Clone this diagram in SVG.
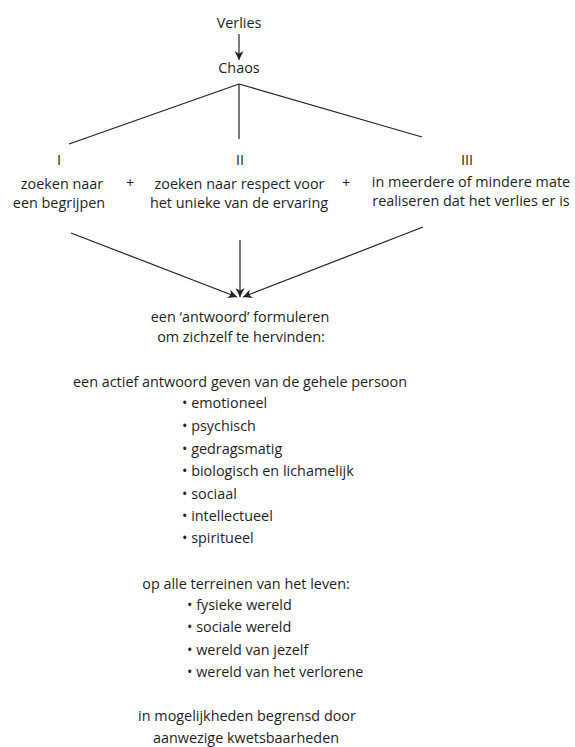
<svg xmlns="http://www.w3.org/2000/svg" width="575" height="747" viewBox="0 0 575 747">
<style>
text{font-family:"Open Sans","Liberation Sans",sans-serif;font-size:14.4px;fill:#1e1e1e}
.c{text-anchor:middle}
.num{opacity:0.99}
.ln{stroke:#222;stroke-width:1.2;fill:none}
.arr{marker-end:url(#ah)}
</style>
<defs>
<marker id="ah" viewBox="0 0 10 10" refX="10" refY="5" markerWidth="9" markerHeight="9" markerUnits="userSpaceOnUse" orient="auto">
<path d="M0,0 L10,5 L0,10 L3,5 Z" fill="#222"/>
</marker>
</defs>
<rect width="575" height="747" fill="#fff"/>
<g id="connectors">
<line class="ln arr" x1="239" y1="34" x2="239" y2="60"/>
<line class="ln" x1="239" y1="84" x2="69" y2="144"/>
<line class="ln" x1="239" y1="84" x2="239" y2="139"/>
<line class="ln" x1="239" y1="84" x2="422" y2="137"/>
<line class="ln arr" x1="71" y1="233" x2="237" y2="297"/>
<line class="ln arr" x1="240" y1="240" x2="240" y2="297"/>
<line class="ln arr" x1="423" y1="227" x2="243" y2="297"/>
</g>
<g id="verlies"><text class="c" x="239" y="28">Verlies</text></g>
<g id="chaos"><text class="c" x="239" y="73">Chaos</text></g>
<g id="node-I">
<text class="c num" x="59" y="165">I</text>
<text class="c" x="62" y="189">zoeken naar</text>
<text class="c" x="59" y="208">een begrijpen</text>
</g>
<g id="plus1"><text class="c" x="130" y="188">+</text></g>
<g id="node-II">
<text class="c num" x="240" y="165">II</text>
<text class="c" x="239.5" y="189">zoeken naar respect voor</text>
<text class="c" x="239" y="208">het unieke van de ervaring</text>
</g>
<g id="plus2"><text class="c" x="346" y="188">+</text></g>
<g id="node-III">
<text class="c num" x="467" y="165">III</text>
<text class="c" x="471" y="187">in meerdere of mindere mate</text>
<text class="c" x="471" y="206">realiseren dat het verlies er is</text>
</g>
<g id="antwoord">
<text class="c" x="240" y="322">een ‘antwoord’ formuleren</text>
<text class="c" x="241" y="342">om zichzelf te hervinden:</text>
</g>
<g id="persoon">
<text class="c" x="240" y="387">een actief antwoord geven van de gehele persoon</text>
<text x="182" y="408">• emotioneel</text>
<text x="182" y="431">• psychisch</text>
<text x="182" y="454">• gedragsmatig</text>
<text x="182" y="476">• biologisch en lichamelijk</text>
<text x="182" y="499">• sociaal</text>
<text x="182" y="521">• intellectueel</text>
<text x="182" y="543">• spiritueel</text>
</g>
<g id="terreinen">
<text class="c" x="246" y="589">op alle terreinen van het leven:</text>
<text x="187" y="610">• fysieke wereld</text>
<text x="187" y="632">• sociale wereld</text>
<text x="187" y="655">• wereld van jezelf</text>
<text x="187" y="677">• wereld van het verlorene</text>
</g>
<g id="begrensd">
<text class="c" x="247" y="721">in mogelijkheden begrensd door</text>
<text class="c" x="246" y="743">aanwezige kwetsbaarheden</text>
</g>
</svg>
